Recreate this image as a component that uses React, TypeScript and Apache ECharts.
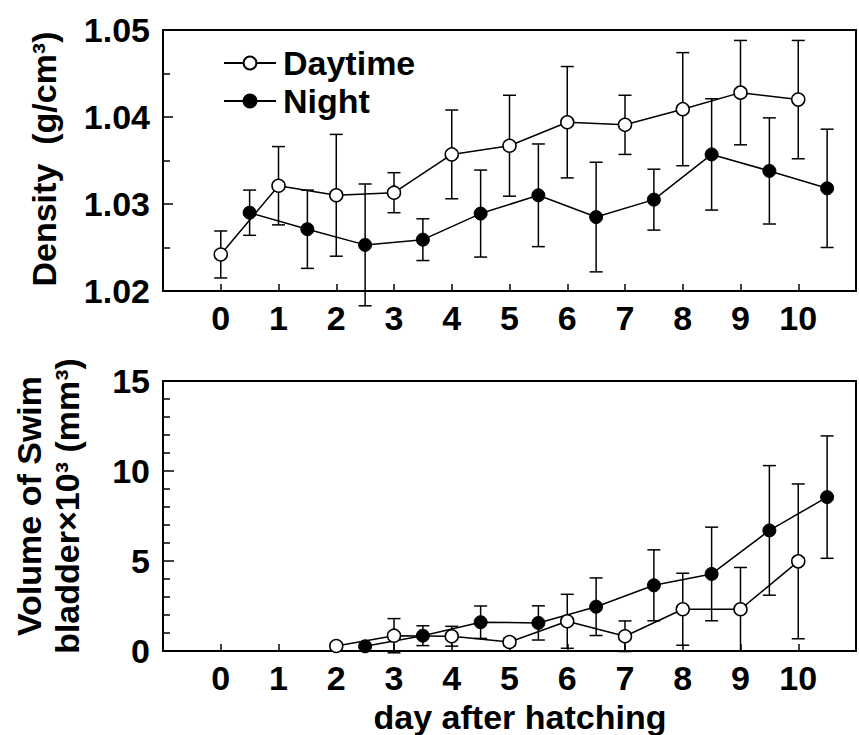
import React, { useEffect, useRef } from "react";
import * as echarts from "echarts";

// ---- Data ----
const dayX = [0, 1, 2, 3, 4, 5, 6, 7, 8, 9, 10];
const nightX = [0.5, 1.5, 2.5, 3.5, 4.5, 5.5, 6.5, 7.5, 8.5, 9.5, 10.5];

const densityDay = [1.0242, 1.0321, 1.031, 1.0313, 1.0357, 1.0367, 1.0394, 1.0391, 1.0409, 1.0428, 1.042];
const densityDayErr = [0.0027, 0.0045, 0.007, 0.0023, 0.0051, 0.0058, 0.0064, 0.0034, 0.0065, 0.006, 0.0068];
const densityNight = [1.029, 1.0271, 1.0253, 1.0259, 1.0289, 1.031, 1.0285, 1.0305, 1.0357, 1.0338, 1.0318];
const densityNightErr = [0.0026, 0.0045, 0.007, 0.0024, 0.005, 0.0059, 0.0063, 0.0035, 0.0064, 0.0061, 0.0068];

const volDayX = [2, 3, 4, 5, 6, 7, 8, 9, 10];
const volDay = [0.28, 0.85, 0.82, 0.5, 1.65, 0.82, 2.32, 2.32, 4.98];
const volDayErr = [0, 0.95, 0.55, 0.2, 1.5, 0.85, 2.0, 2.32, 4.3];
const volNightX = [2.5, 3.5, 4.5, 5.5, 6.5, 7.5, 8.5, 9.5, 10.5];
const volNight = [0.26, 0.85, 1.6, 1.56, 2.46, 3.65, 4.28, 6.7, 8.55];
const volNightErr = [0, 0.55, 0.9, 0.95, 1.6, 1.97, 2.6, 3.6, 3.4];

const xTickLabels = ["0", "1", "2", "3", "4", "5", "6", "7", "8", "9", "10"];
const seriesNames = ["Daytime", "Night"];

const FONT = "'Liberation Sans', Arial, sans-serif";

function pts(xs: number[], ys: number[]) {
  return xs.map((x, i) => [x, ys[i]]);
}
function errs(xs: number[], ys: number[], es: number[]) {
  const out: number[][] = [];
  xs.forEach((x, i) => {
    if (es[i] > 0) out.push([x, ys[i] - es[i], ys[i] + es[i]]);
  });
  return out;
}

const errRender = (params: any, api: any) => {
  const x = api.value(0);
  const lo = api.value(1);
  const hi = api.value(2);
  const t = api.coord([x, hi]);
  const b = api.coord([x, lo]);
  const w = 6.5;
  const style = { stroke: "#000", lineWidth: 1.5, fill: null };
  return {
    type: "group",
    children: [
      { type: "line", shape: { x1: t[0], y1: t[1], x2: b[0], y2: b[1] }, style },
      { type: "line", shape: { x1: t[0] - w, y1: t[1], x2: t[0] + w, y2: t[1] }, style },
      { type: "line", shape: { x1: b[0] - w, y1: b[1], x2: b[0] + w, y2: b[1] }, style },
    ],
  };
};

export default function App() {
  const ref = useRef<HTMLDivElement>(null);
  useEffect(() => {
    if (!ref.current) return;
    const chart = echarts.init(ref.current, null, { renderer: "svg" });

    const xAxisBase = (gridIndex: number) => ({
      type: "value",
      gridIndex,
      min: -1,
      max: 11,
      interval: 1,
      axisLine: { show: true, onZero: false, lineStyle: { color: "#000", width: 2 } },
      axisTick: { show: true, inside: true, length: 7, lineStyle: { color: "#000", width: 1.5 } },
      axisLabel: {
        formatter: (v: number) => (v >= 0 && v <= 10 ? xTickLabels[Math.round(v)] : ""),
        fontSize: 34,
        fontWeight: "bold",
        color: "#000",
        margin: 10,
        fontFamily: FONT,
      },
      splitLine: { show: false },
    });

    const lineSeries = (name: string, data: number[][], xi: number, filled: boolean) => ({
      name,
      type: "line",
      xAxisIndex: xi,
      yAxisIndex: xi,
      data,
      symbol: "circle",
      symbolSize: 13,
      z: 3,
      lineStyle: { color: "#000", width: 1.5 },
      itemStyle: filled
        ? { color: "#000", borderColor: "#000", borderWidth: 1 }
        : { color: "#fff", borderColor: "#000", borderWidth: 1.5 },
    });

    const errSeries = (data: number[][], xi: number) => ({
      type: "custom",
      xAxisIndex: xi,
      yAxisIndex: xi,
      renderItem: errRender,
      data,
      encode: { x: 0, y: [1, 2] },
      z: 2,
      silent: true,
    });

    chart.setOption({
      animation: false,
      backgroundColor: "#fff",
      textStyle: { fontFamily: FONT },
      grid: [
        { left: 163, top: 30, width: 704, height: 261, show: true, borderColor: "#000", borderWidth: 2 },
        { left: 163, top: 381, width: 704, height: 270, show: true, borderColor: "#000", borderWidth: 2 },
      ],
      legend: {
        data: seriesNames,
        orient: "vertical",
        left: 218,
        top: 39,
        itemWidth: 52,
        itemHeight: 16,
        itemGap: 0,
        textStyle: {
          fontSize: 34,
          fontWeight: "bold",
          color: "#000",
          lineHeight: 38,
          fontFamily: FONT,
          padding: [0, 0, 0, 2],
        },
      },
      xAxis: [xAxisBase(0), xAxisBase(1)],
      yAxis: [
        {
          type: "value",
          gridIndex: 0,
          min: 1.02,
          max: 1.05,
          interval: 0.01,
          axisLine: { show: true, onZero: false, lineStyle: { color: "#000", width: 2 } },
          axisTick: { show: true, inside: true, length: 10, lineStyle: { color: "#000", width: 1.5 } },
          minorTick: { show: true, splitNumber: 2, length: 7, lineStyle: { color: "#000", width: 1.5 } },
          axisLabel: {
            formatter: (v: number) => v.toFixed(2),
            fontSize: 34,
            fontWeight: "bold",
            color: "#000",
            margin: 13,
            fontFamily: FONT,
          },
          splitLine: { show: false },
        },
        {
          type: "value",
          gridIndex: 1,
          min: 0,
          max: 15,
          interval: 5,
          axisLine: { show: true, onZero: false, lineStyle: { color: "#000", width: 2 } },
          axisTick: { show: true, inside: true, length: 11, lineStyle: { color: "#000", width: 1.5 } },
          minorTick: { show: true, splitNumber: 5, length: 7, lineStyle: { color: "#000", width: 1.5 } },
          axisLabel: {
            fontSize: 34,
            fontWeight: "bold",
            color: "#000",
            margin: 13,
            fontFamily: FONT,
          },
          splitLine: { show: false },
        },
      ],
      graphic: [
        {
          type: "text",
          x: 44,
          y: 159,
          rotation: Math.PI / 2,
          style: {
            text: "Density  (g/cm³)",
            align: "center",
            verticalAlign: "middle",
            fontSize: 34,
            fontWeight: "bold",
            fill: "#000",
            fontFamily: FONT,
          },
        },
        {
          type: "text",
          x: 48,
          y: 506,
          rotation: Math.PI / 2,
          style: {
            text: "Volume of Swim\nbladder×10³ (mm³)",
            align: "center",
            verticalAlign: "middle",
            lineHeight: 38,
            fontSize: 34,
            fontWeight: "bold",
            fill: "#000",
            fontFamily: FONT,
          },
        },
        {
          type: "text",
          x: 520,
          y: 717,
          style: {
            text: "day after hatching",
            align: "center",
            verticalAlign: "middle",
            fontSize: 34,
            fontWeight: "bold",
            fill: "#000",
            fontFamily: FONT,
          },
        },
      ],
      series: [
        errSeries(errs(dayX, densityDay, densityDayErr), 0),
        errSeries(errs(nightX, densityNight, densityNightErr), 0),
        lineSeries(seriesNames[0], pts(dayX, densityDay), 0, false),
        lineSeries(seriesNames[1], pts(nightX, densityNight), 0, true),
        errSeries(errs(volDayX, volDay, volDayErr), 1),
        errSeries(errs(volNightX, volNight, volNightErr), 1),
        lineSeries(seriesNames[0], pts(volDayX, volDay), 1, false),
        lineSeries(seriesNames[1], pts(volNightX, volNight), 1, true),
      ],
    });
    return () => chart.dispose();
  }, []);
  return (
    <div
      ref={ref}
      style={{ position: "absolute", left: 0, top: 0, width: 859, height: 735 }}
    />
  );
}
